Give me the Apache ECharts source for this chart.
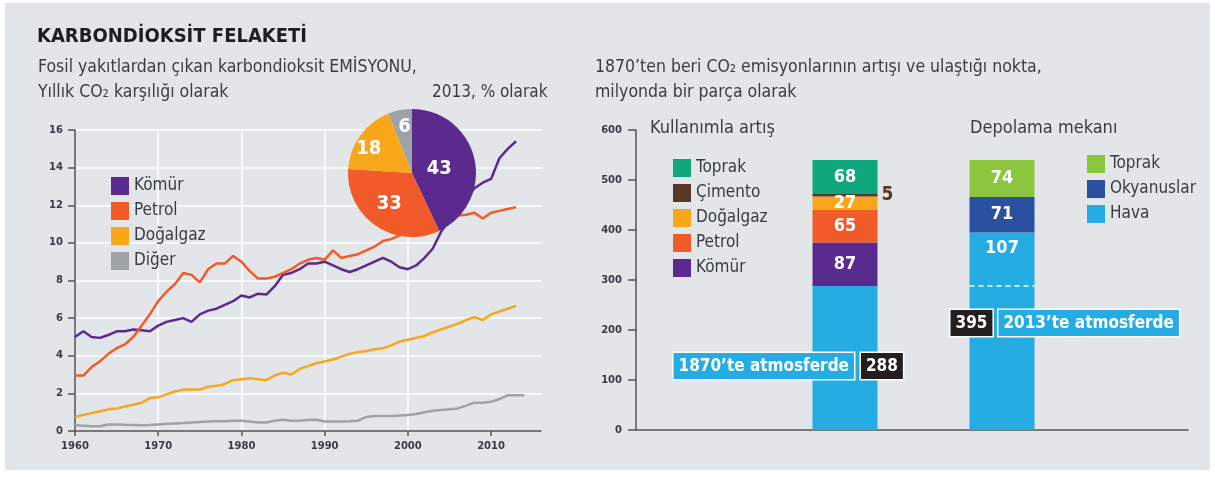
<!DOCTYPE html>
<html>
<head>
<meta charset="utf-8">
<script src="https://cdn.jsdelivr.net/npm/echarts@6/dist/echarts.min.js"></script>
<style>
  html, body { margin: 0; padding: 0; background: #fff; }
  #chart { width: 1215px; height: 477px; }
</style>
</head>
<body>
<div id="chart"></div>
<script>
// left chart: yearly emissions by fuel
const years = [1960, 1961, 1962, 1963, 1964, 1965, 1966, 1967, 1968, 1969,
  1970, 1971, 1972, 1973, 1974, 1975, 1976, 1977, 1978, 1979,
  1980, 1981, 1982, 1983, 1984, 1985, 1986, 1987, 1988, 1989,
  1990, 1991, 1992, 1993, 1994, 1995, 1996, 1997, 1998, 1999,
  2000, 2001, 2002, 2003, 2004, 2005, 2006, 2007, 2008, 2009,
  2010, 2011, 2012, 2013, 2014]
const yearTicks = [1960, 1970, 1980, 1990, 2000, 2010]
const komur = [5.0, 5.3, 5.0, 4.95, 5.1, 5.3, 5.3, 5.4, 5.35, 5.3,
  5.6, 5.8, 5.9, 6.0, 5.8, 6.2, 6.4, 6.5, 6.7, 6.9,
  7.2, 7.1, 7.3, 7.25, 7.7, 8.3, 8.4, 8.6, 8.9, 8.9,
  9.0, 8.8, 8.6, 8.45, 8.6, 8.8, 9.0, 9.2, 9.0, 8.7,
  8.6, 8.8, 9.2, 9.7, 10.6, 11.2, 11.8, 12.4, 12.9, 13.2,
  13.4, 14.5, 15.0, 15.4]
const petrol = [2.95, 2.95, 3.4, 3.7, 4.1, 4.4, 4.6, 5.0, 5.6, 6.2,
  6.9, 7.4, 7.8, 8.4, 8.3, 7.9, 8.6, 8.9, 8.9, 9.3,
  9.0, 8.5, 8.1, 8.1, 8.2, 8.4, 8.6, 8.9, 9.1, 9.2,
  9.1, 9.6, 9.2, 9.3, 9.4, 9.6, 9.8, 10.1, 10.2, 10.4,
  10.6, 10.8, 11.0, 11.3, 11.4, 11.45, 11.45, 11.5, 11.6, 11.3,
  11.6, 11.7, 11.8, 11.9]
const dogalgaz = [0.75, 0.85, 0.95, 1.05, 1.15, 1.2, 1.3, 1.4, 1.5, 1.75,
  1.8, 1.95, 2.1, 2.2, 2.2, 2.2, 2.35, 2.4, 2.5, 2.7,
  2.75, 2.8, 2.75, 2.7, 2.95, 3.1, 3.0, 3.3, 3.45, 3.6,
  3.7, 3.8, 3.95, 4.1, 4.2, 4.25, 4.35, 4.4, 4.55, 4.75,
  4.85, 4.95, 5.05, 5.25, 5.4, 5.55, 5.7, 5.9, 6.05, 5.9,
  6.2, 6.35, 6.5, 6.65]
const diger = [0.3, 0.28, 0.25, 0.25, 0.35, 0.35, 0.33, 0.32, 0.3, 0.32,
  0.35, 0.38, 0.4, 0.42, 0.45, 0.48, 0.5, 0.52, 0.52, 0.55,
  0.55, 0.5, 0.45, 0.45, 0.55, 0.6, 0.55, 0.55, 0.58, 0.6,
  0.5, 0.5, 0.5, 0.52, 0.55, 0.75, 0.8, 0.8, 0.8, 0.82,
  0.85, 0.9, 1.0, 1.08, 1.12, 1.15, 1.2, 1.35, 1.5, 1.5,
  1.55, 1.7, 1.9, 1.9, 1.9]

// pie: 2013 shares (%)
const pieNames = ['Kömür', 'Petrol', 'Doğalgaz', 'Diğer']
const pieValues = [43, 33, 18, 6]

// right chart: ppm since 1870
const barCats = ['Kullanımla artış', 'Depolama mekanı']
const atmosfer1870 = [288, 288]
const kullanimKomur = [87, '-']
const kullanimPetrol = [65, '-']
const kullanimDogalgaz = [27, '-']
const kullanimCimento = [5, '-']
const kullanimToprak = [68, '-']
const depoHava = ['-', 107]
const depoOkyanus = ['-', 71]
const depoToprak = ['-', 74]
const atmosfer2013 = 395

const FONT = "'Liberation Sans Narrow', 'DejaVu Sans Condensed', 'Roboto Condensed', 'Noto Sans', sans-serif"
const TXT = '#3b3b45'
const C = {
  komur: '#5b2a8f',
  petrol: '#f15a29',
  gaz: '#f8a71b',
  diger: '#9ea3a8',
  hava: '#25ace3',
  cimento: '#5c3826',
  toprak1: '#10a77e',
  toprak2: '#8cc63f',
  okyanus: '#2b50a1'
}
const pieColors = [C.komur, C.petrol, C.gaz, C.diger]
const pieLabelShift = [[-7, 3], [-3, 2], [-15, -4], [-1, -12]]
const BAR_W = 65

const pair = (arr) => arr.map((v, i) => [years[i], v])

const chart = echarts.init(document.getElementById('chart'))

const boxStyle = (bg) => ({
  backgroundColor: bg,
  color: '#fff',
  fontFamily: FONT,
  fontWeight: 'bold',
  fontSize: 17,
  borderColor: '#fff',
  borderWidth: 1.5,
  padding: [5, 5, 4, 5]
})

const segLabel = {
  show: true,
  position: 'inside',
  color: '#fff',
  fontFamily: FONT,
  fontWeight: 'bold',
  fontSize: 18
}

const tickLabel = { fontFamily: 'DejaVu Sans', fontSize: 10, fontWeight: 'bold', color: '#3a3a4a' }

const option = {
  backgroundColor: '#fff',
  animation: false,
  graphic: [{
    type: 'rect', left: 5, top: 3, z: -10,
    shape: { width: 1205, height: 467 },
    style: { fill: '#e3e6e9' }
  }],
  title: [
    { text: 'KARBONDİOKSİT FELAKETİ', left: 37, top: 27, padding: 0,
      textStyle: { fontFamily: FONT, fontSize: 20, fontWeight: 'bold', color: '#1e1e22' } },
    { text: 'Fosil yakıtlardan çıkan karbondioksit EMİSYONU,\nYıllık CO₂ karşılığı olarak', left: 38, top: 55, padding: 0,
      textStyle: { fontFamily: FONT, fontSize: 17.5, fontWeight: 'normal', color: TXT, lineHeight: 25 } },
    { text: '2013, % olarak', left: 432, top: 84, padding: 0,
      textStyle: { fontFamily: FONT, fontSize: 17, fontWeight: 'normal', color: TXT } },
    { text: '1870’ten beri CO₂ emisyonlarının artışı ve ulaştığı nokta,\nmilyonda bir parça olarak', left: 595, top: 55, padding: 0,
      textStyle: { fontFamily: FONT, fontSize: 17.5, fontWeight: 'normal', color: TXT, lineHeight: 25 } },
    { text: 'Kullanımla artış', left: 650, top: 119, padding: 0,
      textStyle: { fontFamily: FONT, fontSize: 18, fontWeight: 'normal', color: TXT } },
    { text: 'Depolama mekanı', left: 970, top: 119, padding: 0,
      textStyle: { fontFamily: FONT, fontSize: 18, fontWeight: 'normal', color: TXT } }
  ],
  legend: [
    { data: ['Kömür', 'Petrol', 'Doğalgaz', 'Diğer'], left: 106, top: 172, orient: 'vertical',
      icon: 'rect', itemWidth: 18, itemHeight: 18, itemGap: 7, selectedMode: false,
      textStyle: { fontFamily: FONT, fontSize: 17, color: TXT } },
    { data: ['Toprak', 'Çimento', 'Doğalgaz', 'Petrol', 'Kömür'], left: 668, top: 154, orient: 'vertical',
      icon: 'rect', itemWidth: 18, itemHeight: 18, itemGap: 7, selectedMode: false,
      textStyle: { fontFamily: FONT, fontSize: 17, color: TXT } },
    { data: ['Toprak (depo)', 'Okyanuslar', 'Hava'], left: 1082, top: 150, orient: 'vertical',
      icon: 'rect', itemWidth: 18, itemHeight: 18, itemGap: 7, selectedMode: false,
      formatter: (n) => n === 'Toprak (depo)' ? 'Toprak' : n,
      textStyle: { fontFamily: FONT, fontSize: 17, color: TXT } }
  ],
  grid: [
    { left: 75, top: 130, width: 466, height: 301 },
    { left: 636, top: 130, width: 552, height: 300 },
    { left: 766.5, top: 130, width: 314, height: 300 }
  ],
  xAxis: [
    { type: 'value', gridIndex: 0, min: 1960, max: 2016, interval: 10,
      axisLine: { lineStyle: { color: '#555', width: 1.5 } },
      axisTick: { show: true, length: 5, customValues: yearTicks, lineStyle: { color: '#555', width: 1.5 } },
      axisLabel: Object.assign({ customValues: yearTicks, margin: 10, formatter: (v) => String(v) }, tickLabel),
      splitLine: { show: true, showMinLine: false, showMaxLine: false, lineStyle: { color: '#fff', width: 1.5 } } },
    { type: 'value', gridIndex: 1, min: 0, max: 1,
      axisLine: { lineStyle: { color: '#555', width: 1.5 } },
      axisTick: { show: false }, axisLabel: { show: false }, splitLine: { show: false } },
    { type: 'category', gridIndex: 2, data: barCats, show: false }
  ],
  yAxis: [
    { type: 'value', gridIndex: 0, min: 0, max: 16, interval: 2,
      axisLine: { show: true, lineStyle: { color: '#555', width: 1.5 } },
      axisTick: { show: true, length: 7, lineStyle: { color: '#555', width: 1.5 } },
      axisLabel: Object.assign({ margin: 12 }, tickLabel),
      splitLine: { show: true, showMinLine: false, lineStyle: { color: '#fff', width: 1.5 } } },
    { type: 'value', gridIndex: 1, min: 0, max: 600, interval: 100,
      axisLine: { show: true, lineStyle: { color: '#555', width: 1.5 } },
      axisTick: { show: true, length: 8, lineStyle: { color: '#555', width: 1.5 } },
      axisLabel: Object.assign({ margin: 14 }, tickLabel),
      splitLine: { show: false } },
    { type: 'value', gridIndex: 2, min: 0, max: 600, show: false }
  ],
  series: [
    { name: 'Kömür', type: 'line', xAxisIndex: 0, yAxisIndex: 0, data: pair(komur), showSymbol: false,
      color: C.komur, lineStyle: { width: 2.5 } },
    { name: 'Petrol', type: 'line', xAxisIndex: 0, yAxisIndex: 0, data: pair(petrol), showSymbol: false,
      color: C.petrol, lineStyle: { width: 2.5 } },
    { name: 'Doğalgaz', type: 'line', xAxisIndex: 0, yAxisIndex: 0, data: pair(dogalgaz), showSymbol: false,
      color: C.gaz, lineStyle: { width: 2.5 } },
    { name: 'Diğer', type: 'line', xAxisIndex: 0, yAxisIndex: 0, data: pair(diger), showSymbol: false,
      color: C.diger, lineStyle: { width: 2.5 } },
    { type: 'pie', center: [412, 173], radius: 64, z: 5, startAngle: 90,
      label: { show: true, position: 'inner', color: '#fff', fontFamily: FONT, fontWeight: 'bold', fontSize: 20,
        formatter: '{c}' },
      labelLine: { show: false },
      data: pieNames.map((n, i) => ({ name: n, value: pieValues[i],
        itemStyle: { color: pieColors[i] },
        label: { offset: pieLabelShift[i] } })) },
    { name: 'Atmosfer', type: 'bar', stack: 'ppm', xAxisIndex: 2, yAxisIndex: 2, barWidth: BAR_W,
      color: C.hava,
      data: [
        { value: atmosfer1870[0], label: { show: true, position: [-139, 67], align: 'left', verticalAlign: 'top',
          formatter: '{a|1870’te atmosferde}{s|}{b|' + atmosfer1870[0] + '}',
          rich: { a: boxStyle(C.hava), b: boxStyle('#231f20'), s: { width: 7 } } } },
        { value: atmosfer1870[1], label: { show: true, position: [-19, 24], align: 'left', verticalAlign: 'top',
          formatter: '{b|' + atmosfer2013 + '}{s|}{a|2013’te atmosferde}',
          rich: { a: boxStyle(C.hava), b: boxStyle('#231f20'), s: { width: 6 } } } }
      ] },
    { name: 'Kömür', type: 'bar', stack: 'ppm', xAxisIndex: 2, yAxisIndex: 2, barWidth: BAR_W,
      color: C.komur, data: kullanimKomur, label: segLabel },
    { name: 'Petrol', type: 'bar', stack: 'ppm', xAxisIndex: 2, yAxisIndex: 2, barWidth: BAR_W,
      color: C.petrol, data: kullanimPetrol, label: segLabel },
    { name: 'Doğalgaz', type: 'bar', stack: 'ppm', xAxisIndex: 2, yAxisIndex: 2, barWidth: BAR_W,
      color: C.gaz, data: kullanimDogalgaz, label: segLabel },
    { name: 'Çimento', type: 'bar', stack: 'ppm', xAxisIndex: 2, yAxisIndex: 2, barWidth: BAR_W,
      color: C.cimento, data: kullanimCimento,
      label: { show: true, position: 'right', distance: 4, color: C.cimento, fontFamily: FONT, fontWeight: 'bold', fontSize: 19 } },
    { name: 'Toprak', type: 'bar', stack: 'ppm', xAxisIndex: 2, yAxisIndex: 2, barWidth: BAR_W,
      color: C.toprak1, data: kullanimToprak, label: segLabel },
    { name: 'Hava', type: 'bar', stack: 'ppm', xAxisIndex: 2, yAxisIndex: 2, barWidth: BAR_W,
      color: C.hava, data: depoHava, label: Object.assign({}, segLabel, { position: 'insideTop', distance: 7 }) },
    { name: 'Okyanuslar', type: 'bar', stack: 'ppm', xAxisIndex: 2, yAxisIndex: 2, barWidth: BAR_W,
      color: C.okyanus, data: depoOkyanus, label: segLabel },
    { name: 'Toprak (depo)', type: 'bar', stack: 'ppm', xAxisIndex: 2, yAxisIndex: 2, barWidth: BAR_W,
      color: C.toprak2, data: depoToprak, label: segLabel },
    { // dashed line marking the 1870 level inside the storage bar
      type: 'custom', xAxisIndex: 2, yAxisIndex: 2, z: 10, silent: true,
      data: [[1, atmosfer1870[1]]],
      renderItem: (params, api) => {
        const p = api.coord([api.value(0), api.value(1)])
        return {
          type: 'line',
          shape: { x1: p[0] - BAR_W / 2, y1: p[1], x2: p[0] + BAR_W / 2, y2: p[1] },
          style: { stroke: '#fff', lineWidth: 1.5, lineDash: [5, 4] }
        }
      }
    }
  ]
}

chart.setOption(option)
</script>
</body>
</html>
